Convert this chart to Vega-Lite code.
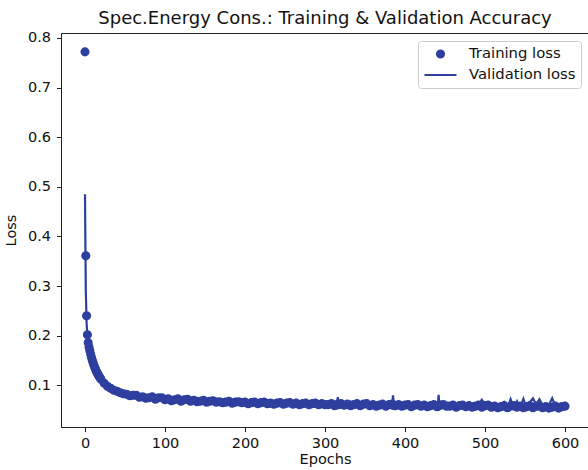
{
  "$schema": "https://vega.github.io/schema/vega-lite/v6.json",
  "width": 528,
  "height": 394,
  "autosize": {"type": "none"},
  "padding": {"left": 61, "top": 33, "right": 0, "bottom": 43},
  "config": {
    "font": "DejaVu Sans",
    "view": {"stroke": "#222", "strokeWidth": 1},
    "axis": {
      "grid": false,
      "domainColor": "#222",
      "tickColor": "#222",
      "tickSize": 4.5,
      "labelFontSize": 14.5,
      "labelColor": "#111",
      "titleFontSize": 14.5,
      "titleFontWeight": "normal",
      "titleColor": "#111"
    },
    "legend": {
      "orient": "top-right",
      "offset": 8,
      "title": null,
      "strokeColor": "#cccccc",
      "fillColor": "white",
      "cornerRadius": 3,
      "padding": 5,
      "labelFontSize": 14.8,
      "labelColor": "#111",
      "symbolOffset": 0,
      "labelOffset": 11,
      "rowPadding": 5,
      "clipHeight": 16,
      "symbolStrokeWidth": 2.2,
      "symbolOpacity": 1
    }
  },
  "title": {
    "text": "Spec.Energy Cons.: Training & Validation Accuracy",
    "fontSize": 18,
    "fontWeight": "normal",
    "color": "#111",
    "anchor": "middle",
    "offset": 2
  },
  "data": {
    "values": [
      {"e": 0, "t": 0.772, "v": 0.485},
      {"e": 1, "t": 0.361, "v": 0.290},
      {"e": 2, "t": 0.240, "v": 0.226},
      {"e": 3, "t": 0.202, "v": 0.197},
      {"e": 4, "t": 0.186, "v": 0.184},
      {"e": 5, "t": 0.177, "v": 0.175},
      {"e": 6, "t": 0.170, "v": 0.167},
      {"e": 7, "t": 0.163, "v": 0.161},
      {"e": 8, "t": 0.157, "v": 0.156},
      {"e": 9, "t": 0.151, "v": 0.149},
      {"e": 10, "t": 0.146, "v": 0.144},
      {"e": 11, "t": 0.141, "v": 0.140},
      {"e": 12, "t": 0.137, "v": 0.135},
      {"e": 13, "t": 0.133, "v": 0.132},
      {"e": 14, "t": 0.129, "v": 0.128},
      {"e": 15, "t": 0.126, "v": 0.124},
      {"e": 16, "t": 0.123, "v": 0.121},
      {"e": 17, "t": 0.120, "v": 0.119},
      {"e": 18, "t": 0.117, "v": 0.116},
      {"e": 19, "t": 0.115, "v": 0.113},
      {"e": 20, "t": 0.112, "v": 0.111},
      {"e": 24, "t": 0.104, "v": 0.103},
      {"e": 28, "t": 0.098, "v": 0.100},
      {"e": 32, "t": 0.094, "v": 0.092},
      {"e": 36, "t": 0.090, "v": 0.092},
      {"e": 40, "t": 0.088, "v": 0.086},
      {"e": 44, "t": 0.085, "v": 0.087},
      {"e": 48, "t": 0.083, "v": 0.081},
      {"e": 52, "t": 0.082, "v": 0.084},
      {"e": 56, "t": 0.079, "v": 0.078},
      {"e": 60, "t": 0.080, "v": 0.082},
      {"e": 64, "t": 0.080, "v": 0.075},
      {"e": 68, "t": 0.076, "v": 0.081},
      {"e": 72, "t": 0.077, "v": 0.075},
      {"e": 76, "t": 0.074, "v": 0.081},
      {"e": 80, "t": 0.075, "v": 0.071},
      {"e": 84, "t": 0.077, "v": 0.077},
      {"e": 88, "t": 0.072, "v": 0.072},
      {"e": 92, "t": 0.075, "v": 0.078},
      {"e": 96, "t": 0.075, "v": 0.070},
      {"e": 100, "t": 0.071, "v": 0.076},
      {"e": 104, "t": 0.073, "v": 0.071},
      {"e": 108, "t": 0.069, "v": 0.076},
      {"e": 112, "t": 0.071, "v": 0.067},
      {"e": 116, "t": 0.073, "v": 0.073},
      {"e": 120, "t": 0.068, "v": 0.068},
      {"e": 124, "t": 0.071, "v": 0.074},
      {"e": 128, "t": 0.072, "v": 0.067},
      {"e": 132, "t": 0.068, "v": 0.073},
      {"e": 136, "t": 0.070, "v": 0.068},
      {"e": 140, "t": 0.067, "v": 0.074},
      {"e": 144, "t": 0.068, "v": 0.064},
      {"e": 148, "t": 0.070, "v": 0.070},
      {"e": 152, "t": 0.066, "v": 0.066},
      {"e": 156, "t": 0.068, "v": 0.071},
      {"e": 160, "t": 0.069, "v": 0.064},
      {"e": 164, "t": 0.066, "v": 0.071},
      {"e": 168, "t": 0.067, "v": 0.065},
      {"e": 172, "t": 0.065, "v": 0.071},
      {"e": 176, "t": 0.066, "v": 0.063},
      {"e": 180, "t": 0.068, "v": 0.068},
      {"e": 184, "t": 0.064, "v": 0.064},
      {"e": 188, "t": 0.066, "v": 0.069},
      {"e": 192, "t": 0.067, "v": 0.063},
      {"e": 196, "t": 0.065, "v": 0.069},
      {"e": 200, "t": 0.066, "v": 0.064},
      {"e": 204, "t": 0.063, "v": 0.069},
      {"e": 208, "t": 0.065, "v": 0.061},
      {"e": 212, "t": 0.066, "v": 0.066},
      {"e": 216, "t": 0.063, "v": 0.063},
      {"e": 220, "t": 0.065, "v": 0.068},
      {"e": 224, "t": 0.066, "v": 0.062},
      {"e": 228, "t": 0.063, "v": 0.067},
      {"e": 232, "t": 0.064, "v": 0.063},
      {"e": 236, "t": 0.062, "v": 0.068},
      {"e": 240, "t": 0.064, "v": 0.060},
      {"e": 244, "t": 0.065, "v": 0.066},
      {"e": 248, "t": 0.062, "v": 0.062},
      {"e": 252, "t": 0.064, "v": 0.067},
      {"e": 256, "t": 0.065, "v": 0.061},
      {"e": 260, "t": 0.062, "v": 0.067},
      {"e": 264, "t": 0.064, "v": 0.062},
      {"e": 268, "t": 0.061, "v": 0.067},
      {"e": 272, "t": 0.063, "v": 0.059},
      {"e": 276, "t": 0.064, "v": 0.065},
      {"e": 280, "t": 0.061, "v": 0.061},
      {"e": 284, "t": 0.063, "v": 0.066},
      {"e": 288, "t": 0.064, "v": 0.060},
      {"e": 292, "t": 0.061, "v": 0.066},
      {"e": 296, "t": 0.063, "v": 0.061},
      {"e": 300, "t": 0.061, "v": 0.067},
      {"e": 304, "t": 0.061, "v": 0.058},
      {"e": 308, "t": 0.063, "v": 0.063},
      {"e": 312, "t": 0.059, "v": 0.059},
      {"e": 315, "t": 0.061, "v": 0.062},
      {"e": 316, "t": 0.062, "v": 0.076},
      {"e": 317, "t": 0.061, "v": 0.062},
      {"e": 320, "t": 0.063, "v": 0.058},
      {"e": 324, "t": 0.060, "v": 0.066},
      {"e": 328, "t": 0.062, "v": 0.061},
      {"e": 332, "t": 0.059, "v": 0.067},
      {"e": 336, "t": 0.061, "v": 0.057},
      {"e": 340, "t": 0.063, "v": 0.063},
      {"e": 344, "t": 0.059, "v": 0.059},
      {"e": 348, "t": 0.062, "v": 0.065},
      {"e": 352, "t": 0.063, "v": 0.058},
      {"e": 356, "t": 0.059, "v": 0.064},
      {"e": 360, "t": 0.061, "v": 0.059},
      {"e": 364, "t": 0.058, "v": 0.065},
      {"e": 368, "t": 0.060, "v": 0.056},
      {"e": 372, "t": 0.062, "v": 0.062},
      {"e": 376, "t": 0.058, "v": 0.058},
      {"e": 380, "t": 0.061, "v": 0.064},
      {"e": 384, "t": 0.062, "v": 0.059},
      {"e": 385, "t": 0.060, "v": 0.080},
      {"e": 386, "t": 0.060, "v": 0.061},
      {"e": 388, "t": 0.059, "v": 0.064},
      {"e": 392, "t": 0.061, "v": 0.059},
      {"e": 396, "t": 0.058, "v": 0.065},
      {"e": 400, "t": 0.060, "v": 0.056},
      {"e": 404, "t": 0.061, "v": 0.061},
      {"e": 408, "t": 0.057, "v": 0.057},
      {"e": 412, "t": 0.060, "v": 0.063},
      {"e": 416, "t": 0.061, "v": 0.056},
      {"e": 420, "t": 0.058, "v": 0.063},
      {"e": 424, "t": 0.060, "v": 0.058},
      {"e": 428, "t": 0.057, "v": 0.064},
      {"e": 432, "t": 0.059, "v": 0.055},
      {"e": 436, "t": 0.061, "v": 0.061},
      {"e": 440, "t": 0.057, "v": 0.057},
      {"e": 441, "t": 0.058, "v": 0.060},
      {"e": 442, "t": 0.059, "v": 0.081},
      {"e": 443, "t": 0.060, "v": 0.060},
      {"e": 444, "t": 0.060, "v": 0.063},
      {"e": 448, "t": 0.061, "v": 0.055},
      {"e": 452, "t": 0.058, "v": 0.063},
      {"e": 456, "t": 0.058, "v": 0.054},
      {"e": 460, "t": 0.060, "v": 0.062},
      {"e": 464, "t": 0.056, "v": 0.056},
      {"e": 468, "t": 0.059, "v": 0.062},
      {"e": 472, "t": 0.060, "v": 0.055},
      {"e": 476, "t": 0.057, "v": 0.062},
      {"e": 480, "t": 0.059, "v": 0.057},
      {"e": 484, "t": 0.056, "v": 0.063},
      {"e": 488, "t": 0.058, "v": 0.054},
      {"e": 492, "t": 0.060, "v": 0.060},
      {"e": 496, "t": 0.056, "v": 0.071},
      {"e": 500, "t": 0.059, "v": 0.062},
      {"e": 504, "t": 0.060, "v": 0.055},
      {"e": 508, "t": 0.056, "v": 0.061},
      {"e": 512, "t": 0.058, "v": 0.056},
      {"e": 516, "t": 0.055, "v": 0.062},
      {"e": 520, "t": 0.057, "v": 0.053},
      {"e": 524, "t": 0.059, "v": 0.066},
      {"e": 528, "t": 0.055, "v": 0.055},
      {"e": 532, "t": 0.058, "v": 0.072},
      {"e": 536, "t": 0.059, "v": 0.054},
      {"e": 540, "t": 0.056, "v": 0.068},
      {"e": 544, "t": 0.058, "v": 0.056},
      {"e": 548, "t": 0.055, "v": 0.073},
      {"e": 552, "t": 0.057, "v": 0.053},
      {"e": 556, "t": 0.059, "v": 0.066},
      {"e": 560, "t": 0.055, "v": 0.074},
      {"e": 564, "t": 0.058, "v": 0.061},
      {"e": 568, "t": 0.058, "v": 0.072},
      {"e": 572, "t": 0.055, "v": 0.060},
      {"e": 576, "t": 0.057, "v": 0.055},
      {"e": 580, "t": 0.054, "v": 0.061},
      {"e": 584, "t": 0.056, "v": 0.074},
      {"e": 588, "t": 0.058, "v": 0.058},
      {"e": 592, "t": 0.054, "v": 0.054},
      {"e": 596, "t": 0.057, "v": 0.060},
      {"e": 600, "t": 0.058, "v": 0.056}
    ]
  },
  "encoding": {
    "x": {
      "field": "e",
      "type": "quantitative",
      "scale": {"domain": [-30, 630], "nice": false, "zero": false},
      "axis": {"title": "Epochs", "values": [0, 100, 200, 300, 400, 500, 600], "labelPadding": 5, "titlePadding": 2}
    }
  },
  "layer": [
    {
      "mark": {"type": "point", "filled": true, "opacity": 1, "stroke": "#2e3f9f", "strokeWidth": 2.2},
      "encoding": {
        "y": {
          "field": "t",
          "type": "quantitative",
          "scale": {"domain": [0.016, 0.81], "nice": false, "zero": false},
          "axis": {"title": "Loss", "values": [0.1, 0.2, 0.3, 0.4, 0.5, 0.6, 0.7, 0.8], "format": ".1f", "labelPadding": 6, "titlePadding": 9}
        },
        "color": {
          "datum": "Training loss",
          "type": "nominal",
          "scale": {"domain": ["Training loss", "Validation loss"], "range": ["#2e3f9f", "#2e3f9f"]},
          "legend": {"orient": "top-right", "title": null}
        },
        "shape": {
          "datum": "Training loss",
          "type": "nominal",
          "scale": {"domain": ["Training loss", "Validation loss"], "range": ["circle", "stroke"]},
          "legend": {"orient": "top-right", "title": null}
        },
        "size": {
          "datum": "Training loss",
          "type": "ordinal",
          "scale": {"type": "ordinal", "domain": ["Training loss", "Validation loss"], "range": [48, 1024]},
          "legend": {"orient": "top-right", "title": null}
        }
      }
    },
    {
      "mark": {"type": "line", "strokeWidth": 2.2},
      "encoding": {
        "y": {"field": "v", "type": "quantitative"},
        "color": {"datum": "Validation loss", "type": "nominal"}
      }
    }
  ]
}
